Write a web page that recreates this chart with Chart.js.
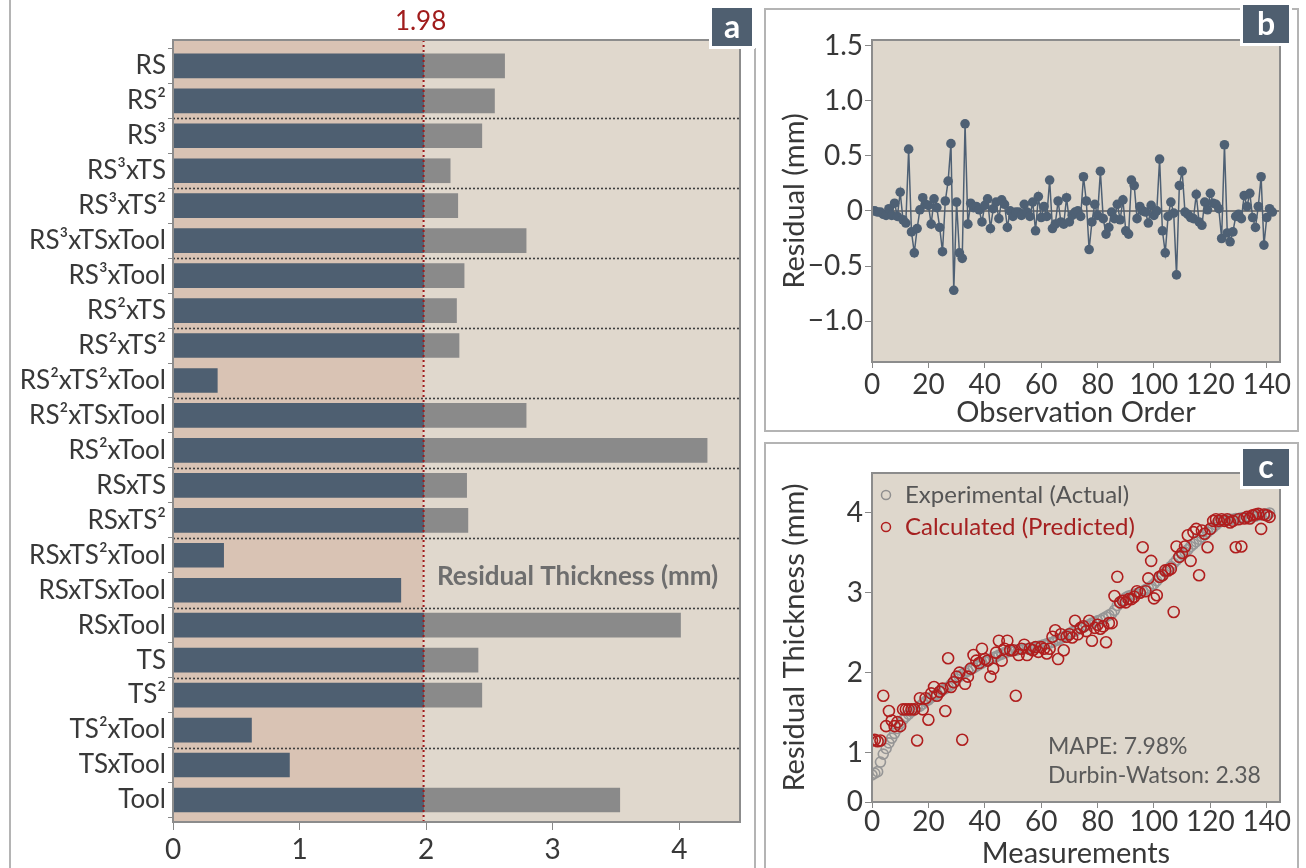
<!DOCTYPE html>
<html><head><meta charset="utf-8">
<script src="https://cdn.jsdelivr.net/npm/chart.js@4.4.1/dist/chart.umd.min.js"></script>
<style>
body{margin:0;background:#fff;width:1306px;height:868px;overflow:hidden;position:relative;font-family:Lato,sans-serif}
canvas{position:absolute}
.vline{position:absolute;width:0;border-left:2px solid #b4b4b4}
.frame{position:absolute;border:2px solid #b4b4b4;box-sizing:border-box}
.badge{position:absolute;background:#4f5f70;color:#fff;font:bold 32px Lato,sans-serif;display:flex;align-items:center;justify-content:center;box-shadow:0 0 0 3px #fff;padding-bottom:4px;box-sizing:border-box}
</style></head><body>
<div class="vline" style="left:9px;top:0;height:868px"></div>
<div class="vline" style="left:754px;top:48px;height:820px"></div>
<div class="frame" style="left:764px;top:8px;width:535px;height:424px"></div>
<div class="frame" style="left:764px;top:442px;width:535px;height:440px"></div>
<canvas id="ca" width="760" height="868" style="left:0;top:0"></canvas>
<canvas id="cb" width="542" height="435" style="left:764px;top:0"></canvas>
<canvas id="cc" width="542" height="430" style="left:764px;top:438px"></canvas>
<div class="badge" style="left:712px;top:8px;width:40px;height:38px">a</div>
<div class="badge" style="left:1243px;top:5px;width:46px;height:38px">b</div>
<div class="badge" style="left:1243px;top:449px;width:46px;height:37px">c</div>
<script>
// ---------- Panel a data ----------
const categories = ["RS","RS²","RS³","RS³xTS","RS³xTS²","RS³xTSxTool","RS³xTool","RS²xTS","RS²xTS²","RS²xTS²xTool","RS²xTSxTool","RS²xTool","RSxTS","RSxTS²","RSxTS²xTool","RSxTSxTool","RSxTool","TS","TS²","TS²xTool","TSxTool","Tool"];
const thicknessValues = [2.62,2.54,2.44,2.19,2.25,2.79,2.30,2.24,2.26,0.35,2.79,4.22,2.32,2.33,0.40,1.80,4.01,2.41,2.44,0.62,0.92,3.53];
const threshold = 1.98;
const xTicksA = [0,1,2,3,4];

// ---------- Panel b data ----------
const residuals = [0,0,-0.01,-0.01,-0.03,-0.04,0.02,-0.04,0.07,-0.05,
0.17,-0.08,-0.11,0.56,-0.19,-0.38,-0.16,0.01,0.12,0.06,
0.05,-0.12,0.11,0.03,-0.15,-0.37,0.09,0.27,0.61,-0.72,
0.08,-0.38,-0.43,0.79,-0.12,0.07,0.03,0.04,0.01,-0.10,
0.05,0.11,-0.16,0.02,0.08,-0.07,0.10,0.06,-0.15,0,
-0.05,-0.01,-0.01,-0.04,0.06,-0.01,-0.05,0.08,-0.18,
0.13,-0.06,0.04,-0.05,0.28,-0.16,-0.12,0.09,-0.10,-0.12,
0.12,-0.10,-0.04,-0.01,0,-0.05,0.31,0.09,-0.35,-0.10,
0.06,-0.04,0.36,-0.07,-0.21,-0.15,-0.01,-0.07,0.06,-0.08,
0.10,-0.18,-0.21,0.28,0.23,-0.07,0.04,0,-0.01,-0.11,
0.05,-0.04,0,0.47,-0.18,-0.38,-0.05,0.08,-0.02,-0.58,
0.23,0.36,-0.01,-0.03,-0.06,-0.07,0.15,-0.10,-0.13,
0.08,0.01,0.16,0.07,0.06,0.02,-0.25,0.60,-0.20,-0.28,
-0.19,-0.05,-0.03,-0.07,0.14,0.04,0.16,-0.06,-0.15,0.04,
0.31,-0.31,-0.06,0.02,-0.01];
const yTicksB = [-1,-0.5,0,0.5,1,1.5];
const xTicksB = [0,20,40,60,80,100,120,140];

// ---------- Panel c data ----------
const experimental = [0.72,0.74,0.76,0.88,0.98,1.05,1.12,1.18,1.24,1.30,
1.36,1.41,1.45,1.48,1.51,1.54,1.56,1.58,1.61,1.64,
1.66,1.69,1.71,1.73,1.76,1.78,1.80,1.82,1.85,1.88,
1.92,1.95,1.98,2.00,2.02,2.04,2.06,2.08,2.10,2.12,
2.14,2.15,2.17,2.19,2.20,2.22,2.23,2.25,2.26,2.27,
2.28,2.28,2.29,2.29,2.30,2.30,2.31,2.31,2.32,2.33,
2.34,2.35,2.36,2.37,2.38,2.40,2.41,2.43,2.45,2.47,
2.49,2.51,2.52,2.54,2.56,2.57,2.59,2.60,2.62,2.63,
2.65,2.66,2.68,2.70,2.72,2.74,2.78,2.84,2.88,2.91,
2.94,2.96,2.97,2.98,2.99,3.00,3.02,3.04,3.06,3.08,
3.11,3.15,3.19,3.22,3.26,3.29,3.33,3.37,3.41,3.45,
3.48,3.51,3.54,3.58,3.61,3.64,3.67,3.70,3.73,3.76,
3.79,3.82,3.85,3.88,3.90,3.91,3.91,3.92,3.92,3.93,
3.93,3.94,3.94,3.95,3.95,3.96,3.96,3.97,3.98,3.98,
3.99,4.00];
const predicted = [1.15,1.16,1.14,1.15,1.71,1.33,1.52,1.40,1.33,1.38,
1.33,1.54,1.54,1.54,1.54,1.54,1.15,1.68,1.54,1.68,
1.41,1.74,1.82,1.71,1.76,1.80,1.52,2.18,1.82,1.88,
1.95,2.00,1.16,1.86,1.95,2.05,2.22,2.15,2.12,2.30,
2.17,2.15,1.95,2.05,2.25,2.40,2.15,2.30,2.40,2.28,
2.28,1.71,2.22,2.30,2.35,2.22,2.30,2.28,2.32,2.26,
2.32,2.30,2.24,2.30,2.45,2.53,2.17,2.48,2.28,2.45,
2.48,2.44,2.65,2.48,2.56,2.58,2.52,2.65,2.40,2.56,
2.60,2.55,2.58,2.38,2.62,2.62,2.96,3.20,2.88,2.90,
2.88,2.92,2.92,2.95,3.02,3.00,3.57,3.02,3.18,3.40,
2.93,2.97,3.20,3.22,3.28,3.28,3.30,2.76,3.58,3.45,
3.50,3.58,3.72,3.40,3.76,3.80,3.22,3.78,3.74,3.57,
3.80,3.90,3.92,3.90,3.92,3.90,3.92,3.88,3.90,3.57,
3.92,3.58,3.93,3.95,3.93,3.97,3.98,3.99,3.80,3.98,
3.97,3.95];
const yTicksC = [1,2,3,4];
const xTicksC = [0,20,40,60,80,100,120,140];

// ---------- shared styling ----------
const FONT = 'Lato';
const TXT = '#383838';
const frameColor = '#8c8c8c';
const tickFont = {size:28, family:FONT, lineHeight:1};
const titleFont = {size:29, family:FONT, lineHeight:1};
function drawFrame(chart){
  const {ctx, chartArea:a} = chart;
  ctx.save(); ctx.strokeStyle = frameColor; ctx.lineWidth = 2;
  ctx.strokeRect(a.left, a.top, a.right-a.left, a.bottom-a.top); ctx.restore();
}

// ---------- Chart a ----------
const blueData = thicknessValues.map((v,i)=>({x:[0, Math.min(v,threshold)], y:i}));
const grayData = thicknessValues.map((v,i)=> v>threshold ? {x:[threshold, v], y:i} : null).filter(d=>d);
const pluginA = {
  id:'pa',
  beforeDatasetsDraw(chart){
    const {ctx, chartArea:a, scales:{x,y}} = chart;
    const tx = x.getPixelForValue(threshold);
    ctx.save();
    ctx.fillStyle = '#d9c3b4'; ctx.fillRect(a.left, a.top, tx-a.left, a.bottom-a.top);
    ctx.fillStyle = '#e0d8cd'; ctx.fillRect(tx, a.top, a.right-tx, a.bottom-a.top);
    ctx.setLineDash([2,2]); ctx.strokeStyle = '#3e3e3e'; ctx.lineWidth = 1.6;
    for(let i=1;i<categories.length-1;i+=2){
      const py = Math.round(y.getPixelForValue(i+0.5))+0.5;
      ctx.beginPath(); ctx.moveTo(a.left, py); ctx.lineTo(a.right, py); ctx.stroke();
    }
    ctx.restore();
  },
  afterDatasetsDraw(chart){
    const {ctx, chartArea:a, scales:{x}} = chart;
    const tx = x.getPixelForValue(threshold);
    ctx.save();
    ctx.setLineDash([2,3]); ctx.strokeStyle = '#a01a1a'; ctx.lineWidth = 2;
    ctx.beginPath(); ctx.moveTo(tx, a.top); ctx.lineTo(tx, a.bottom); ctx.stroke();
    ctx.setLineDash([]);
    ctx.fillStyle = '#a01c1c'; ctx.font = `26px ${FONT}`; ctx.textAlign='center'; ctx.textBaseline='middle';
    ctx.fillText(String(threshold), tx-3, a.top-18);
    ctx.fillStyle = '#6e6e6e'; ctx.font = `bold 26px ${FONT}`; ctx.textAlign='left';
    ctx.fillText('Residual Thickness (mm)', 437, 577);
    ctx.restore();
    drawFrame(chart);
  }
};
new Chart(document.getElementById('ca'), {
  type:'bar',
  data:{datasets:[
    {data:blueData, backgroundColor:'#4e5f71', barThickness:24, grouped:false},
    {data:grayData, backgroundColor:'#8a8a8a', barThickness:24, grouped:false}
  ]},
  options:{
    indexAxis:'y', responsive:false, animation:false,
    layout:{padding:{top:40,right:20,left:0,bottom:0}},
    plugins:{legend:{display:false}, tooltip:{enabled:false}},
    scales:{
      x:{type:'linear', min:0, max:4.48, offset:false,
        afterBuildTicks(s){ s.ticks = xTicksA.map(v=>({value:v})); },
        ticks:{font:{size:28,family:FONT,lineHeight:1}, color:TXT, padding:6},
        grid:{drawOnChartArea:false, tickLength:8, color:'#888'}, border:{display:false},
        afterFit(s){ s.height = 46; }},
      y:{type:'linear', reverse:true, min:-0.74, max:21.63, offset:false,
        afterBuildTicks(s){ s.ticks = categories.map((c,i)=>({value:i})); },
        ticks:{callback:(v)=>categories[v], font:{size:26,family:FONT}, color:TXT, padding:2, autoSkip:false},
        grid:{drawOnChartArea:false, tickLength:5, color:'#888'}, border:{display:false},
        afterFit(s){ s.width = 173; }}
    }
  },
  plugins:[pluginA]
});

// ---------- Chart b ----------
const pluginB = {
  id:'pb',
  beforeDatasetsDraw(chart){
    const {ctx, chartArea:a, scales:{y}} = chart;
    ctx.save();
    ctx.fillStyle = '#ded7cc'; ctx.fillRect(a.left, a.top, a.right-a.left, a.bottom-a.top);
    const py = y.getPixelForValue(0);
    ctx.strokeStyle = '#7a7a7a'; ctx.lineWidth = 2;
    ctx.beginPath(); ctx.moveTo(a.left, py); ctx.lineTo(a.right, py); ctx.stroke();
    ctx.restore();
  },
  afterDatasetsDraw(chart){ drawFrame(chart); }
};
const fmtB = v => v===0 ? '0' : (v<0?'\u2212':'') + Math.abs(v).toFixed(1);
new Chart(document.getElementById('cb'), {
  type:'line',
  data:{datasets:[{data:residuals.map((v,i)=>({x:i,y:v})), borderColor:'#4e6074', backgroundColor:'#4e6074',
    borderWidth:1.5, pointRadius:4.8, pointBorderWidth:0, tension:0}]},
  options:{
    responsive:false, animation:false,
    layout:{padding:{top:40,right:26,left:0,bottom:0}},
    plugins:{legend:{display:false}, tooltip:{enabled:false}},
    scales:{
      x:{type:'linear', min:0, max:144.7,
        afterBuildTicks(s){ s.ticks = xTicksB.map(v=>({value:v})); },
        ticks:{font:tickFont, color:TXT, padding:3},
        grid:{drawOnChartArea:false, tickLength:6, color:'#888'}, border:{display:false},
        title:{display:true, text:'Observation Order', font:titleFont, color:TXT, padding:{top:0,bottom:8}},
        afterFit(s){ s.height = 73; }},
      y:{type:'linear', min:-1.37, max:1.55,
        afterBuildTicks(s){ s.ticks = yTicksB.map(v=>({value:v})); },
        ticks:{callback:fmtB, font:tickFont, color:TXT, padding:2},
        grid:{drawOnChartArea:false, tickLength:7, color:'#888'}, border:{display:false},
        title:{display:true, text:'Residual (mm)', font:titleFont, color:TXT, padding:{top:16,bottom:0}},
        afterFit(s){ s.width = 108; }}
    }
  },
  plugins:[pluginB]
});

// ---------- Chart c ----------
const yMinC = 0.38;
const pluginC = {
  id:'pc',
  beforeDatasetsDraw(chart){
    const {ctx, chartArea:a} = chart;
    ctx.save(); ctx.fillStyle = '#ded7cc'; ctx.fillRect(a.left, a.top, a.right-a.left, a.bottom-a.top); ctx.restore();
  },
  afterDatasetsDraw(chart){
    const {ctx, chartArea:a} = chart;
    drawFrame(chart);
    ctx.save();
    ctx.font = `24px ${FONT}`; ctx.textBaseline='middle'; ctx.textAlign='left';
    const items = [['Experimental (Actual)','#8f8f8f','#555555'],['Calculated (Predicted)','#b01e1e','#a52020']];
    items.forEach((it,k)=>{
      const cy = a.top + 22 + k*32;
      ctx.beginPath(); ctx.arc(a.left+14, cy, 4.5, 0, Math.PI*2); ctx.lineWidth=1.5; ctx.strokeStyle=it[1]; ctx.stroke();
      ctx.fillStyle = it[2]; ctx.fillText(it[0], a.left+33, cy);
    });
    ctx.fillStyle = '#5a5a5a'; ctx.font = `23px ${FONT}`;
    ctx.fillText('MAPE: 7.98%', a.left+176, a.top+274);
    ctx.fillText('Durbin-Watson: 2.38', a.left+176, a.top+303);
    ctx.restore();
  }
};
new Chart(document.getElementById('cc'), {
  type:'scatter',
  data:{datasets:[
    {label:'Calculated (Predicted)', data:predicted.map((v,i)=>({x:i,y:v})), borderColor:'#b01e1e', backgroundColor:'rgba(0,0,0,0)', pointRadius:5.5, borderWidth:1.6, order:1},
    {label:'Experimental (Actual)', data:experimental.map((v,i)=>({x:i,y:v})), borderColor:'#969696', backgroundColor:'rgba(0,0,0,0)', pointRadius:5, borderWidth:1.6, order:2}
  ]},
  options:{
    responsive:false, animation:false,
    layout:{padding:{top:35,right:26,left:0,bottom:0}},
    plugins:{legend:{display:false}, tooltip:{enabled:false}},
    scales:{
      x:{type:'linear', min:0, max:144.7,
        afterBuildTicks(s){ s.ticks = xTicksC.map(v=>({value:v})); },
        ticks:{font:tickFont, color:TXT, padding:0},
        grid:{drawOnChartArea:false, tickLength:6, color:'#888'}, border:{display:false},
        title:{display:true, text:'Measurements', font:titleFont, color:TXT, padding:{top:0,bottom:0}},
        afterFit(s){ s.height = 66; }},
      y:{type:'linear', min:yMinC, max:4.5,
        afterBuildTicks(s){ s.ticks = [{value:yMinC}].concat(yTicksC.map(v=>({value:v}))); },
        ticks:{callback:v=> v===yMinC ? '0' : String(v), font:tickFont, color:TXT, padding:2},
        grid:{drawOnChartArea:false, tickLength:7, color:'#888'}, border:{display:false},
        title:{display:true, text:'Residual Thickness (mm)', font:titleFont, color:TXT, padding:{top:16,bottom:0}},
        afterFit(s){ s.width = 108; }}
    }
  },
  plugins:[pluginC]
});
</script>
</body></html>
